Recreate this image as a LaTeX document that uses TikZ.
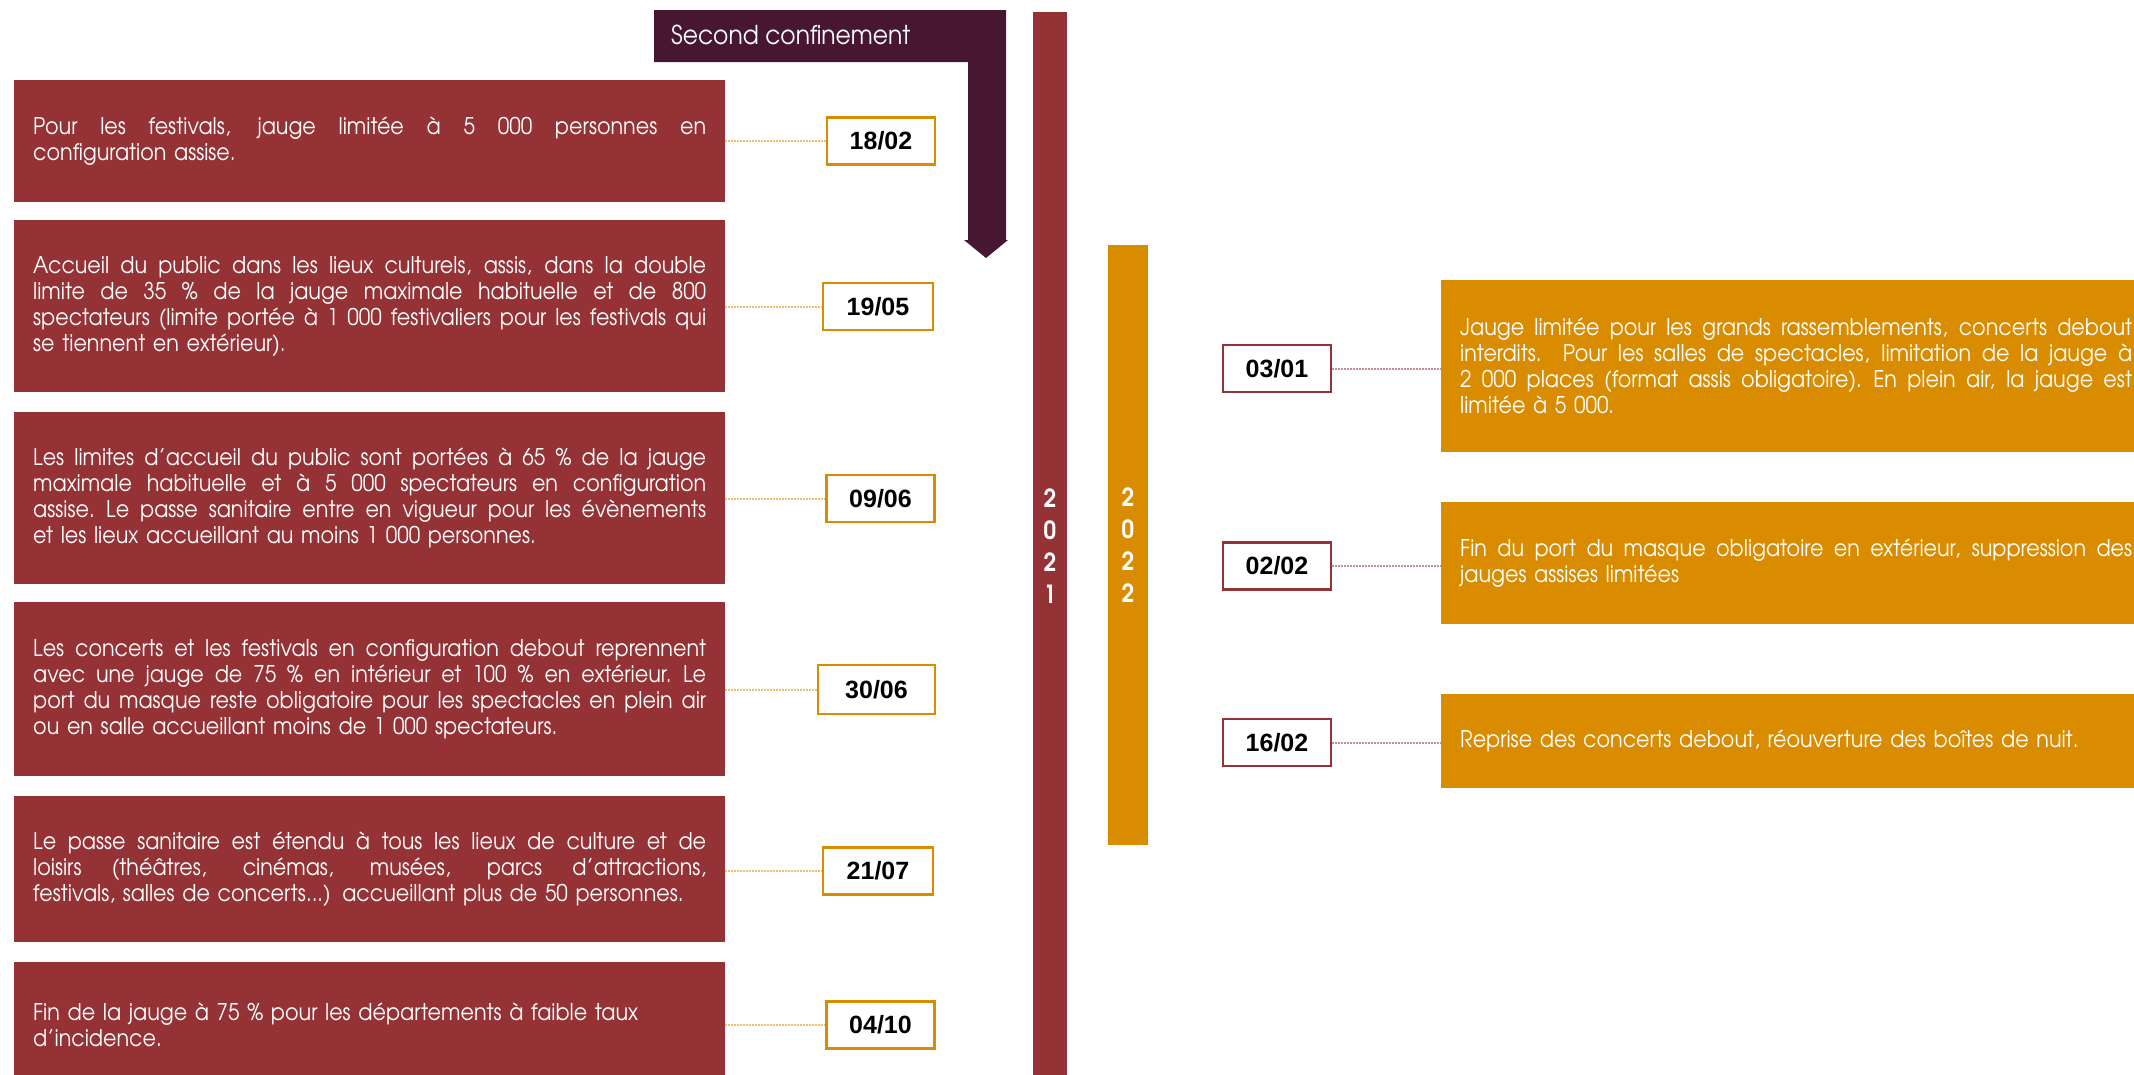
\documentclass[tikz,border=0pt]{standalone}
\usepackage{fontspec}
\newfontfamily\gfont{TeX Gyre Adventor}[FakeStretch=0.9]
\newfontfamily\dfont{Liberation Sans}
\definecolor{cred}{HTML}{943236}
\definecolor{corange}{HTML}{DA8C00}
\definecolor{cplum}{HTML}{461632}
\newcommand\jl[2][673pt]{\makebox[#1][s]{\spaceskip=.25em plus 1fil\relax #2}\\}
\tikzset{
  evbox/.style={fill=cred, text=white, font=\gfont\fontsize{23}{26}\selectfont,
    text width=673pt, inner xsep=19pt, inner ysep=0pt, align=left, anchor=north west},
  ovbox/.style={evbox, fill=corange, text width=674pt},
  ldate/.style={draw=corange, line width=2.5pt, fill=white, inner sep=0pt,
    minimum width=108pt, minimum height=47pt, font=\dfont\bfseries\fontsize{25}{25}\selectfont},
  rdate/.style={ldate, draw=cred},
  lconn/.style={draw=corange!55, line width=2pt, dash pattern=on 2pt off 1pt},
  rconn/.style={draw=cred!55, line width=2pt, dash pattern=on 2pt off 1pt},
  yearbar/.style={inner sep=0pt, text=white, align=center,
    font=\gfont\bfseries\fontsize{25}{32}\selectfont},
}
\begin{document}
\begin{tikzpicture}[x=1pt,y=-1pt]
\useasboundingbox (0,0) rectangle (2134,1074);
\clip (0,0) rectangle (2134,1074);
\fill[white] (0,0) rectangle (2134,1074);
% second confinement arrow
\fill[cplum] (654,10) -- (1006,10) -- (1006,240) -- (1008,240) -- (986,258)
  -- (964,240) -- (968,240) -- (968,62) -- (654,62) -- cycle;
\node[anchor=west, inner sep=0pt, text=white, font=\gfont\fontsize{26}{28}\selectfont] (sc) at (671,35) {Second confinement};
% year bars
\node[yearbar, fill=cred, minimum width=34pt, minimum height=1068pt] (y21) at (1050,546) {2\\0\\2\\1};
\node[yearbar, fill=corange, minimum width=40pt, minimum height=600pt] (y22) at (1128,545) {2\\0\\2\\2};
% left events
\node[evbox, minimum height=122pt] (L1) at (14,80) {\jl{Pour les festivals, jauge limitée à 5 000 personnes en}configuration assise.};
\node[evbox, minimum height=172pt] (L2) at (14,220) {\jl{Accueil du public dans les lieux culturels, assis, dans la double}\jl{limite de 35 \% de la jauge maximale habituelle et de 800}\jl{spectateurs (limite portée à 1 000 festivaliers pour les festivals qui}se tiennent en extérieur).};
\node[evbox, minimum height=172pt] (L3) at (14,412) {\jl{Les limites d’accueil du public sont portées à 65 \% de la jauge}\jl{maximale habituelle et à 5 000 spectateurs en configuration}\jl{assise. Le passe sanitaire entre en vigueur pour les évènements}et les lieux accueillant au moins 1 000 personnes.};
\node[evbox, minimum height=174pt] (L4) at (14,602) {\jl{Les concerts et les festivals en configuration debout reprennent}\jl{avec une jauge de 75 \% en intérieur et 100 \% en extérieur. Le}\jl{port du masque reste obligatoire pour les spectacles en plein air}ou en salle accueillant moins de 1 000 spectateurs.};
\node[evbox, minimum height=146pt] (L5) at (14,796) {\jl{Le passe sanitaire est étendu à tous les lieux de culture et de}\jl{loisirs (théâtres, cinémas, musées, parcs d’attractions,}festivals, salles de concerts...) accueillant plus de 50 personnes.};
\node[evbox, minimum height=126pt] (L6) at (14,962) {Fin de la jauge à 75 \% pour les départements à faible taux\\d’incidence.};
% left dates
\node[ldate] (D1) at (881,141) {18/02};
\node[ldate, minimum width=110pt] (D2) at (878,306.5) {19/05};
\node[ldate] (D3) at (880.5,498.5) {09/06};
\node[ldate, minimum width=117pt, minimum height=49pt] (D4) at (876.5,689.5) {30/06};
\node[ldate, minimum width=110pt] (D5) at (878,871) {21/07};
\node[ldate] (D6) at (880.5,1025) {04/10};
\foreach \b/\d in {L1/D1,L2/D2,L3/D3,L4/D4,L5/D5,L6/D6}
  \draw[lconn] (\b.east |- \d.west) -- (\d.west);
% right events
\node[ovbox, minimum height=172pt] (RA) at (1441,280) {\jl[672pt]{Jauge limitée pour les grands rassemblements, concerts debout}\jl[672pt]{interdits.\ \ Pour les salles de spectacles, limitation de la jauge à}\jl[672pt]{2 000 places (format assis obligatoire). En plein air, la jauge est}limitée à 5 000.};
\node[ovbox, minimum height=122pt] (RB) at (1441,502) {\jl[672pt]{Fin du port du masque obligatoire en extérieur, suppression des}jauges assises limitées};
\node[ovbox, minimum height=94pt] (RC) at (1441,694) {Reprise des concerts debout, réouverture des boîtes de nuit.};
% right dates
\node[rdate] (R1) at (1277,368.5) {03/01};
\node[rdate] (R2) at (1277,566) {02/02};
\node[rdate] (R3) at (1277,742.5) {16/02};
\foreach \d/\b in {R1/RA,R2/RB,R3/RC}
  \draw[rconn] (\d.east) -- (\b.west |- \d.east);
\end{tikzpicture}
\end{document}
